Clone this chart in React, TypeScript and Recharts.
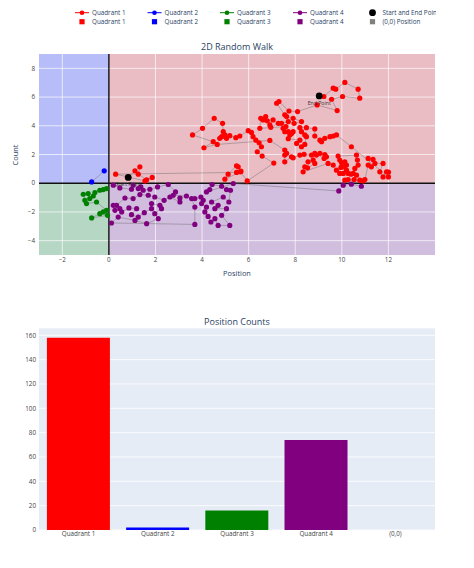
import React from "react";
import {
  ScatterChart,
  Scatter,
  XAxis,
  YAxis,
  ReferenceArea,
  ReferenceLine,
  Label,
  BarChart,
  Bar,
  Cell,
  CartesianGrid,
} from "recharts";

const FONT = '"Open Sans", verdana, arial, sans-serif';
const INK = "#2a3f5f";

// walk positions, grouped by quadrant, in walk order
const quadrant1: [number, number][] = [
  [0.83, 0.4], [1.12, 0.86], [1.33, 1.14], [1.26, 0.63], [1.62, 0.24], [1.86, 0.4], [1.55, 0.16], [0.29, 0.63],
  [5.48, 0.75], [5.67, 0.84], [5.55, 1.14], [5.48, 1.21], [5.12, 0.63], [4.98, 0.28], [5.65, 0.79], [5.94, 0.16],
  [7.08, 1.4], [6.58, 1.89], [6.37, 2.19], [6.55, 2.54], [6.45, 2.82], [6.31, 3.0], [6.19, 3.24], [6.12, 3.54],
  [5.98, 3.66], [5.62, 3.29], [5.45, 3.17], [5.19, 3.31], [5.05, 3.13], [4.76, 3.13], [4.84, 3.24], [4.98, 3.36],
  [4.91, 3.59], [4.88, 4.17], [4.52, 4.52], [4.02, 3.82], [3.59, 3.36], [4.48, 2.89], [4.08, 2.47], [4.65, 2.7],
  [6.91, 2.98], [7.55, 2.31], [7.63, 2.08], [7.55, 1.96], [7.55, 1.49], [7.84, 1.84], [7.91, 1.77], [8.2, 1.96],
  [8.38, 2.01], [8.7, 1.96], [8.91, 1.96], [9.06, 2.08], [9.27, 2.0], [9.34, 1.84], [9.24, 1.73], [8.84, 2.08],
  [8.77, 1.61], [8.55, 1.49], [8.84, 1.38], [8.53, 1.07], [8.41, 1.14], [8.34, 0.79],
  [9.41, 1.38], [9.63, 1.26], [9.77, 0.91], [9.91, 0.68], [10.06, 0.68], [10.27, 0.68], [10.2, 0.91], [9.96, 1.1],
  [10.1, 1.14], [10.2, 1.26], [9.99, 1.42], [10.13, 1.49], [9.91, 1.61], [9.84, 1.89], [10.63, 1.96], [10.67, 1.61],
  [10.7, 1.26], [10.56, 1.03], [10.49, 0.68], [10.39, 0.63], [10.63, 0.56], [10.53, 0.26], [10.27, 0.26], [10.13, 0.21],
  [10.77, 0.21], [10.91, 0.16], [10.99, 0.26], [11.13, 1.26], [11.27, 1.14], [11.13, 1.73], [11.34, 1.66], [11.42, 1.38],
  [11.77, 1.38], [11.63, 0.79], [11.77, 0.44], [11.92, 0.79], [12.0, 0.77], [12.0, 0.44],
  [10.41, 2.54], [9.77, 3.36], [9.63, 3.29], [9.49, 3.24], [9.27, 3.13], [9.13, 2.89], [9.06, 3.0], [8.84, 3.29],
  [8.84, 3.78], [8.48, 3.87], [8.2, 3.87], [8.27, 3.59], [8.41, 3.36], [8.48, 3.24], [8.41, 2.7], [8.27, 2.54],
  [8.06, 2.77], [8.2, 3.0], [7.7, 3.1], [7.77, 3.36], [7.84, 3.47], [7.91, 3.59], [7.7, 3.59], [7.55, 3.59],
  [7.48, 3.82], [7.6, 3.95], [6.48, 3.82], [6.52, 4.52], [6.62, 4.41], [6.73, 4.64], [6.8, 4.35], [7.05, 4.41],
  [6.91, 4.06], [6.95, 3.89], [7.27, 4.17], [7.41, 4.17], [7.7, 4.29], [7.95, 4.17], [8.27, 4.29], [7.91, 4.52],
  [7.63, 4.64], [7.55, 4.76], [7.2, 5.57], [7.3, 5.69], [7.73, 5.03], [8.1, 4.99],
  [8.94, 5.45], [9.8, 5.06], [9.56, 5.85], [10.03, 6.04], [10.77, 5.92], [10.7, 6.55], [10.13, 7.02], [9.74, 6.55],
  [9.63, 6.62], [9.23, 6.04],
];

const quadrant2: [number, number][] = [
  [-0.2, 0.86], [-0.74, 0.09],
];

const quadrant3: [number, number][] = [
  [-0.1, -0.37], [-0.24, -0.44], [-0.39, -0.49], [-0.6, -0.65], [-0.67, -0.89], [-0.82, -1.07], [-0.89, -0.72], [-1.1, -0.77],
  [-1.03, -1.19], [-0.96, -1.42], [-0.53, -1.31], [-0.1, -1.89], [-0.24, -2.0], [-0.39, -2.12], [-0.74, -2.42], [-0.06, -2.24],
];

const quadrant4: [number, number][] = [
  [0.19, -0.14], [0.47, -0.33], [0.97, -0.42], [1.04, -0.14], [1.26, -0.37], [1.37, -0.26], [1.47, -0.49], [1.76, -0.42],
  [2.09, -0.26], [2.55, -0.09], [2.86, -0.61], [2.76, -0.84], [3.33, -0.89], [3.05, -1.03], [3.05, -1.31], [2.62, -0.96],
  [2.37, -1.19], [1.97, -0.96], [1.69, -0.84], [1.33, -0.79], [1.04, -1.07], [0.69, -1.03], [0.33, -1.54], [0.19, -1.54],
  [0.26, -1.89], [0.47, -1.77], [0.55, -2.0], [0.86, -1.72], [1.19, -1.77], [0.97, -2.19], [1.26, -2.36], [1.52, -2.05],
  [1.83, -1.77], [1.83, -1.42], [2.19, -1.54], [2.26, -1.77], [1.97, -2.12], [2.12, -2.47], [1.62, -2.82], [1.12, -2.59],
  [0.4, -2.36], [0.11, -2.77],
  [3.69, -2.87], [3.69, -1.66], [3.55, -1.07], [3.69, -1.07], [3.95, -0.96], [4.05, -1.19], [3.98, -1.42], [4.19, -1.66],
  [4.12, -2.0], [4.26, -2.31], [4.38, -2.7], [4.55, -2.47], [4.69, -2.94], [5.19, -2.94], [4.84, -2.24], [5.05, -1.77],
  [4.55, -1.77], [4.69, -1.54], [4.41, -1.31], [4.91, -0.96], [5.15, -1.31], [5.22, -0.49], [5.05, -0.44], [4.84, -0.21],
  [4.43, -0.09], [4.33, -0.44], [4.19, -0.61], [5.34, -0.02],
  [9.87, -0.54], [10.06, -0.14], [10.41, -0.07], [10.84, -0.21],
];

const startEnd = [
  { x: 0.83, y: 0.4, label: "Start Point" },
  { x: 9.03, y: 6.08, label: "End Point" },
];

const xTicks = [-2, 0, 2, 4, 6, 8, 10, 12];
const yTicks = [-4, -2, 0, 2, 4, 6, 8];

const countCategories = ["Quadrant 1", "Quadrant 2", "Quadrant 3", "Quadrant 4", "(0,0)"];
const countValues = [158, 2, 16, 74, 0];
const countTicks = [0, 20, 40, 60, 80, 100, 120, 140, 160];

const quadColors = ["red", "blue", "green", "purple"];
const originColor = "gray";
const legendNames = ["Quadrant 1", "Quadrant 2", "Quadrant 3", "Quadrant 4"];

const minus = (v: number) => String(v).replace("-", "\u2212");
const toPoints = (arr: [number, number][]) => arr.map(([x, y]) => ({ x, y }));

const tickStyle = { fontSize: 6.3, fill: "#444", fontFamily: FONT };

function Dot(color: string, r: number) {
  return (p: any) => <circle cx={p.cx} cy={p.cy} r={r} fill={color} />;
}

// black marker with its caption just below it
function MarkedDot(p: any) {
  return (
    <g>
      <circle cx={p.cx} cy={p.cy} r={3.4} fill="black" />
      <text
        x={p.cx}
        y={p.cy + 7}
        textAnchor="middle"
        dominantBaseline="central"
        style={{ fontSize: 5.2, fill: "#333", fontFamily: FONT }}
      >
        {p.payload.label}
      </text>
    </g>
  );
}

function TopLegend() {
  const colX = [82, 154.5, 227, 300, 372.5];
  return (
    <svg width={474} height={30} style={{ position: "absolute", left: 0, top: 0 }}>
      <defs>
        <clipPath id="legclip">
          <rect x={0} y={0} width={436} height={30} />
        </clipPath>
      </defs>
      <g clipPath="url(#legclip)" style={{ fontFamily: FONT, fontSize: 6.3, fill: INK }}>
        {legendNames.map((name, i) => (
          <g key={name}>
            <line x1={colX[i] - 7} x2={colX[i] + 7} y1={12.7} y2={12.7} stroke={quadColors[i]} strokeWidth={1} />
            <circle cx={colX[i]} cy={12.7} r={2.3} fill={quadColors[i]} />
            <text x={colX[i] + 10} y={12.7} dominantBaseline="central">{name}</text>
            <rect x={colX[i] - 2.6} y={19.1} width={5.2} height={5.2} fill={quadColors[i]} />
            <text x={colX[i] + 10} y={21.7} dominantBaseline="central">{name}</text>
          </g>
        ))}
        <circle cx={colX[4]} cy={12.7} r={3.4} fill="black" />
        <text x={colX[4] + 10} y={12.7} dominantBaseline="central">Start and End Points</text>
        <rect x={colX[4] - 2.6} y={19.1} width={5.2} height={5.2} fill={originColor} />
        <text x={colX[4] + 10} y={21.7} dominantBaseline="central">(0,0) Position</text>
      </g>
    </svg>
  );
}

function WalkChart() {
  const quads = [quadrant1, quadrant2, quadrant3, quadrant4];
  return (
    <ScatterChart width={474} height={290} margin={{ top: 54, right: 39, bottom: 0, left: 0 }}>
      <XAxis
        type="number"
        dataKey="x"
        domain={[-3, 14]}
        ticks={xTicks}
        allowDataOverflow
        height={35}
        tickLine={false}
        axisLine={false}
        tickSize={0}
        tickMargin={3}
        tick={tickStyle}
        tickFormatter={minus}
      >
        <Label value="Position" position="insideBottom" offset={14} style={{ fontSize: 7.4, fill: INK, fontFamily: FONT }} />
      </XAxis>
      <YAxis
        type="number"
        dataKey="y"
        domain={[-5, 9]}
        ticks={yTicks}
        allowDataOverflow
        width={39}
        tickLine={false}
        axisLine={false}
        tickSize={0}
        tickMargin={4}
        tick={tickStyle}
        tickFormatter={minus}
      />
      <ReferenceArea x1={0} x2={14} y1={0} y2={9} fill="#eabdc5" fillOpacity={1} stroke="none" />
      <ReferenceArea x1={-3} x2={0} y1={0} y2={9} fill="#b7bdf8" fillOpacity={1} stroke="none" />
      <ReferenceArea x1={-3} x2={0} y1={-5} y2={0} fill="#b7d7c5" fillOpacity={1} stroke="none" />
      <ReferenceArea x1={0} x2={14} y1={-5} y2={0} fill="#d1bdde" fillOpacity={1} stroke="none" />
      {xTicks.filter((t) => t !== 0).map((t) => (
        <ReferenceLine key={"gx" + t} x={t} stroke="#ffffff" strokeOpacity={0.85} strokeWidth={0.8} />
      ))}
      {yTicks.filter((t) => t !== 0).map((t) => (
        <ReferenceLine key={"gy" + t} y={t} stroke="#ffffff" strokeOpacity={0.85} strokeWidth={0.8} />
      ))}
      <ReferenceLine x={0} stroke="#111" strokeWidth={1.4} />
      <ReferenceLine y={0} stroke="#111" strokeWidth={1.4} />
      {quads.map((q, i) => (
        <Scatter
          key={legendNames[i]}
          name={legendNames[i]}
          data={toPoints(q)}
          line={{ stroke: "#6f6f6f", strokeWidth: 0.55, strokeOpacity: 0.85 }}
          shape={Dot(quadColors[i], 2.6)}
          isAnimationActive={false}
        />
      ))}
      <Scatter name="Start and End Points" data={startEnd} shape={MarkedDot} isAnimationActive={false} />
    </ScatterChart>
  );
}

function CountChart() {
  const data = countCategories.map((name, i) => ({ name, count: countValues[i] }));
  const colors = [...quadColors, originColor];
  return (
    <BarChart width={474} height={260} data={data} margin={{ top: 28, right: 39, bottom: 0, left: 0 }} barCategoryGap="10%">
      <CartesianGrid vertical={false} stroke="#ffffff" strokeWidth={0.8} fill="#e5ecf6" />
      <XAxis
        dataKey="name"
        height={30}
        interval={0}
        tickLine={false}
        axisLine={false}
        tickSize={0}
        tickMargin={2}
        tick={tickStyle}
      />
      <YAxis
        type="number"
        domain={[0, 166]}
        ticks={countTicks}
        allowDataOverflow
        width={39}
        tickLine={false}
        axisLine={false}
        tickSize={0}
        tickMargin={3}
        tick={tickStyle}
      />
      <Bar dataKey="count" isAnimationActive={false}>
        {data.map((d, i) => (
          <Cell key={d.name} fill={colors[i]} />
        ))}
      </Bar>
    </BarChart>
  );
}

export default function App() {
  const titleStyle: React.CSSProperties = {
    position: "absolute",
    left: 0,
    width: 474,
    textAlign: "center",
    fontFamily: FONT,
    fontSize: 9,
    color: INK,
    lineHeight: "12px",
  };
  return (
    <div style={{ position: "absolute", left: 0, top: 0, width: 474, height: 568, background: "#fff", overflow: "hidden" }}>
      <TopLegend />
      <div style={{ ...titleStyle, top: 41 }}>2D Random Walk</div>
      <div style={{ position: "absolute", left: 0, top: 0 }}>
        <WalkChart />
      </div>
      <div
        style={{
          position: "absolute",
          left: 15,
          top: 155,
          transform: "translate(-50%, -50%) rotate(-90deg)",
          fontFamily: FONT,
          fontSize: 7.4,
          color: INK,
          whiteSpace: "nowrap",
        }}
      >
        Count
      </div>
      <div style={{ ...titleStyle, top: 316 }}>Position Counts</div>
      <div style={{ position: "absolute", left: 0, top: 300 }}>
        <CountChart />
      </div>
    </div>
  );
}
